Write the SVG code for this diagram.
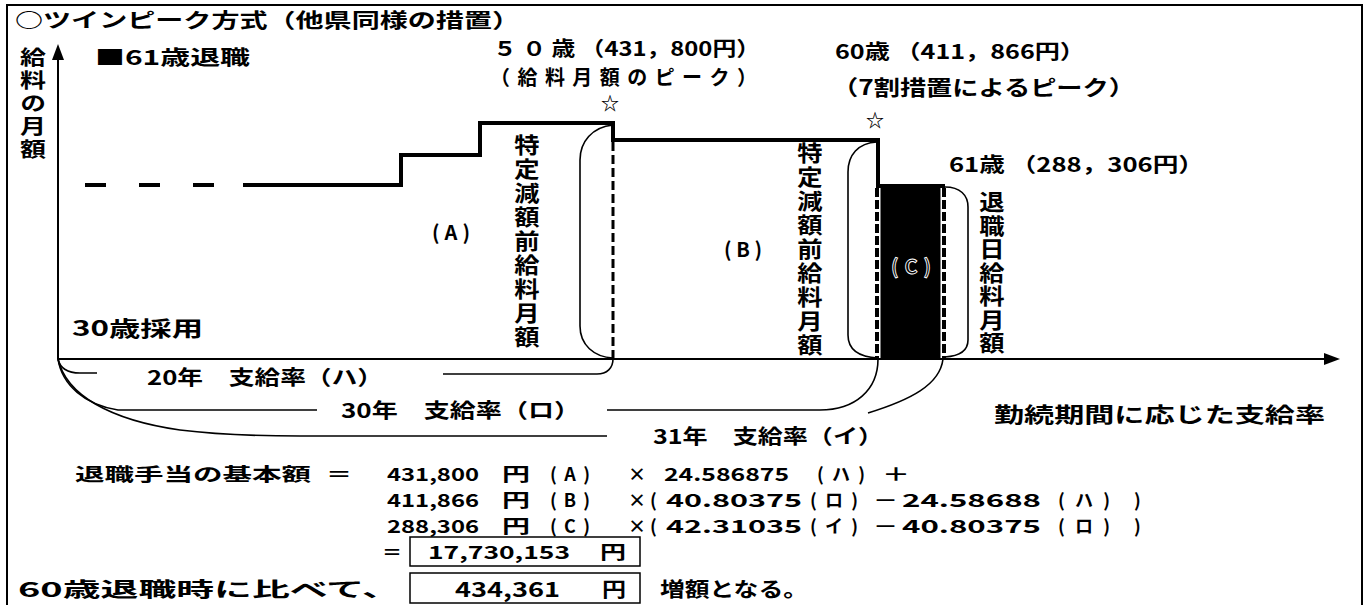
<svg xmlns="http://www.w3.org/2000/svg" width="1366" height="605" viewBox="0 0 1366 605">
<defs>
<style>
.t{font-family:"Noto Sans CJK JP","Noto Sans",sans-serif;font-weight:bold;fill:#000}
.f18{font-size:18px}
.f20{font-size:20px}
.f21{font-size:21px}
.vt{writing-mode:vertical-rl;font-size:22px;letter-spacing:2px}
.thin{fill:none;stroke:#000;stroke-width:1.6}
.sal{fill:none;stroke:#000;stroke-width:4}
.dash{fill:none;stroke:#000;stroke-width:3;stroke-dasharray:9 4}
.box{fill:none;stroke:#000;stroke-width:1.5}
</style>
<marker id="arr" markerUnits="userSpaceOnUse" markerWidth="16" markerHeight="12" refX="0" refY="6" orient="auto">
<path d="M0,0 L16,6 L0,12 z" fill="#000"/>
</marker>
</defs>
<rect width="1366" height="605" fill="#fff"/>
<rect x="7" y="5" width="1355" height="610" fill="none" stroke="#000" stroke-width="2"/>
<g id="title"><text class="t f20" x="15" y="28" textLength="505" lengthAdjust="spacingAndGlyphs">○ツインピーク方式（他県同様の措置）</text></g>
<g id="axes">
<line x1="58" y1="359" x2="58" y2="60" stroke="#000" stroke-width="2" marker-end="url(#arr)"/>
<line x1="58" y1="359" x2="1324" y2="359" stroke="#000" stroke-width="2" marker-end="url(#arr)"/>
<g transform="translate(33,0) scale(1.3,1)"><text class="t vt" x="0" y="47" style="font-size:20px;letter-spacing:3px">給料の月額</text></g>
<text class="t f21" x="72" y="336" textLength="131" lengthAdjust="spacingAndGlyphs">30歳採用</text>
<text class="t f21" x="994" y="422" textLength="331" lengthAdjust="spacingAndGlyphs">勤続期間に応じた支給率</text>
</g>
<g id="legend"><text class="t f20" x="95" y="65" textLength="155" lengthAdjust="spacingAndGlyphs">■61歳退職</text></g>
<g id="salary-line">
<path class="sal" d="M85,185 H243" stroke-dasharray="21 33"/>
<path class="sal" d="M243,185 H401 V155 H480 V123 H613 V140 H878 V186 H945"/>
</g>
<g id="peak-50">
<text class="t f20" x="493" y="56" textLength="267" lengthAdjust="spacingAndGlyphs">５ ０ 歳 （431，800円）</text>
<text class="t f20" x="490" y="85" textLength="267">（給料月額のピーク）</text>
<text class="t" x="610" y="110" font-size="18" text-anchor="middle">☆</text>
</g>
<g id="peak-60">
<text class="t f20" x="835" y="59" textLength="250" lengthAdjust="spacingAndGlyphs">60歳 （411，866円）</text>
<text class="t f21" x="832" y="95" textLength="303" lengthAdjust="spacingAndGlyphs">（7割措置によるピーク）</text>
<text class="t" x="875" y="127" font-size="18" text-anchor="middle">☆</text>
</g>
<g id="age-61"><text class="t f20" x="949" y="172" textLength="255" lengthAdjust="spacingAndGlyphs">61歳 （288，306円）</text></g>
<g id="region-A">
<text class="t f20" x="432" y="240" textLength="38">(A)</text>
<line class="dash" x1="613" y1="142" x2="613" y2="358"/>
<g transform="translate(527,0) scale(1.15,1)"><text class="t vt" x="0" y="134">特定減額前給料月額</text></g>
</g>
<g id="region-B">
<text class="t f20" x="724" y="257" textLength="38">(B)</text>
<g transform="translate(810,0) scale(1.15,1)"><text class="t vt" x="0" y="142">特定減額前給料月額</text></g>
</g>
<g id="region-C">
<rect x="880.5" y="188" width="60" height="170" fill="#000"/>
<line x1="877" y1="188" x2="877" y2="358" stroke="#000" stroke-width="4" stroke-dasharray="9 3"/>
<line x1="944" y1="188" x2="944" y2="358" stroke="#000" stroke-width="4" stroke-dasharray="9 3"/>
<text class="t f20" x="891" y="274" textLength="40" fill="#000" stroke="#fff" stroke-width="0.9">(C)</text>
<g transform="translate(992,0) scale(1.15,1)"><text class="t vt" x="0" y="191" style="letter-spacing:1.5px">退職日給料月額</text></g>
</g>
<g id="connectors">
<path class="thin" d="M613,125 C592,127 580,142 580,160 V326 C580,345 594,357 613,358"/>
<path class="thin" d="M877,142 C858,143 848,155 848,172 V335 C848,350 860,357 878,358"/>
<path class="thin" d="M945,187 C960,187 968,195 968,207 V340 C968,350 960,356 945,357"/>
<path class="thin" d="M58,359 C60,368 68,373 80,373 H97"/>
<path class="thin" d="M443,374 H597 C607,374 613,368 613,359"/>
<path class="thin" d="M58,359 C62,385 85,405 118,410 H317"/>
<path class="thin" d="M607,410 H820 C855,410 878,390 878,359"/>
<path class="thin" d="M58,359 C66,395 110,420 180,430 C220,435 260,436 300,436 H607"/>
<path class="thin" d="M868,413 C910,400 940,385 943,359"/>
</g>
<g id="rates">
<text class="t f20" x="147" y="385" textLength="236" lengthAdjust="spacingAndGlyphs">20年　支給率（ハ）</text>
<text class="t f20" x="341" y="418" textLength="239" lengthAdjust="spacingAndGlyphs">30年　支給率（ロ）</text>
<text class="t f20" x="653" y="444" textLength="230" lengthAdjust="spacingAndGlyphs">31年　支給率（イ）</text>
</g>
<g id="formula">
<text class="t f18" x="75" y="481" textLength="236" lengthAdjust="spacingAndGlyphs">退職手当の基本額</text>
<text class="t f18" x="326" y="481" textLength="26" lengthAdjust="spacingAndGlyphs">＝</text>
<text class="t f18" x="387" y="481" textLength="92" lengthAdjust="spacingAndGlyphs">431,800</text>
<text class="t f18" x="502" y="481" textLength="28" lengthAdjust="spacingAndGlyphs">円</text>
<text class="t f18" x="550" y="481" textLength="40">(A)</text>
<text class="t f18" x="628" y="481">×</text>
<text class="t f18" x="664" y="481" textLength="125" lengthAdjust="spacingAndGlyphs">24.586875</text>
<text class="t f18" x="817" y="481" textLength="48">(ハ)</text>
<text class="t f18" x="882" y="481" textLength="28" lengthAdjust="spacingAndGlyphs">＋</text>

<text class="t f18" x="387" y="507" textLength="92" lengthAdjust="spacingAndGlyphs">411,866</text>
<text class="t f18" x="502" y="507" textLength="28" lengthAdjust="spacingAndGlyphs">円</text>
<text class="t f18" x="550" y="507" textLength="40">(B)</text>
<text class="t f18" x="628" y="507">×</text>
<text class="t f18" x="650" y="507">(</text>
<text class="t f18" x="666" y="507" textLength="136" lengthAdjust="spacingAndGlyphs">40.80375</text>
<text class="t f18" x="810" y="507" textLength="48">(ロ)</text>
<text class="t f18" x="873" y="507" textLength="25" lengthAdjust="spacingAndGlyphs">－</text>
<text class="t f18" x="902" y="507" textLength="139" lengthAdjust="spacingAndGlyphs">24.58688</text>
<text class="t f18" x="1058" y="507" textLength="52">(ハ)</text>
<text class="t f18" x="1134" y="507">)</text>

<text class="t f18" x="387" y="533" textLength="92" lengthAdjust="spacingAndGlyphs">288,306</text>
<text class="t f18" x="502" y="533" textLength="28" lengthAdjust="spacingAndGlyphs">円</text>
<text class="t f18" x="550" y="533" textLength="40">(C)</text>
<text class="t f18" x="628" y="533">×</text>
<text class="t f18" x="650" y="533">(</text>
<text class="t f18" x="666" y="533" textLength="136" lengthAdjust="spacingAndGlyphs">42.31035</text>
<text class="t f18" x="810" y="533" textLength="48">(イ)</text>
<text class="t f18" x="873" y="533" textLength="25" lengthAdjust="spacingAndGlyphs">－</text>
<text class="t f18" x="902" y="533" textLength="139" lengthAdjust="spacingAndGlyphs">40.80375</text>
<text class="t f18" x="1058" y="533" textLength="52">(ロ)</text>
<text class="t f18" x="1134" y="533">)</text>

<text class="t f18" x="382" y="559" textLength="20" lengthAdjust="spacingAndGlyphs">＝</text>
<rect class="box" x="410" y="537" width="230" height="29"/>
<text class="t f18" x="428" y="559" textLength="142" lengthAdjust="spacingAndGlyphs">17,730,153</text>
<text class="t f18" x="600" y="559" textLength="26" lengthAdjust="spacingAndGlyphs">円</text>

<text class="t f20" x="18" y="597" textLength="382" lengthAdjust="spacingAndGlyphs">60歳退職時に比べて、</text>
<rect class="box" x="410" y="573" width="230" height="30"/>
<text class="t f20" x="455" y="597" textLength="105" lengthAdjust="spacingAndGlyphs">434,361</text>
<text class="t f20" x="602" y="597" textLength="24" lengthAdjust="spacingAndGlyphs">円</text>
<text class="t f20" x="660" y="597" textLength="148" lengthAdjust="spacingAndGlyphs">増額となる。</text>
</g>
</svg>
